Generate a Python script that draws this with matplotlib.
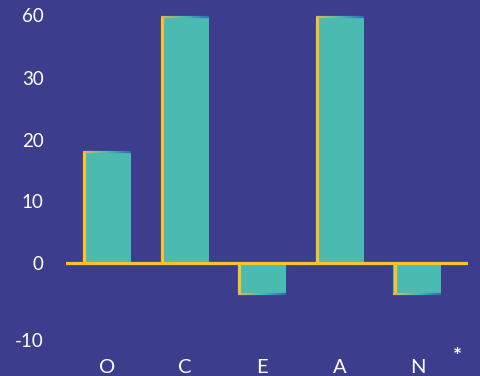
import numpy as np
import matplotlib.pyplot as plt
from matplotlib.collections import LineCollection
from matplotlib.colors import LinearSegmentedColormap

# OCEAN trait scores
traits = ["O", "C", "E", "A", "N"]
scores = [18, 59, -4, 59, -4]
tick_values = [-10, 0, 10, 20, 30, 60]
tick_labels = ["-10", "0", "10", "20", "30", "60"]

BG = "#3d3d8e"
TEAL = "#4bbab1"
GOLD = "#f7c22b"

# uneven axis: each labelled value gets its own spacing
knots_v = np.array([-30, -10, 0, 10, 20, 30, 60, 120], dtype=float)
knots_h = np.array([-118, 36, 113, 175, 236, 298, 361, 487], dtype=float)

def forward(v):
    return np.interp(v, knots_v, knots_h)

def inverse(h):
    return np.interp(h, knots_h, knots_v)

fig = plt.figure(figsize=(4.81, 3.76), dpi=100)
fig.patch.set_facecolor(BG)
ax = fig.add_axes([66 / 481, 31 / 376, 402 / 481, 345 / 376])
ax.set_facecolor(BG)
ax.set_yscale("function", functions=(forward, inverse))

x = np.arange(len(traits))
width = 0.62
ax.bar(x, scores, width=width, color=TEAL, zorder=2)

grad = LinearSegmentedColormap.from_list("edge", ["#d9b95c", "#4bbab1", "#2f6db0"])
for xi, s in zip(x, scores):
    left = xi - width / 2
    # yellow left edge
    ax.plot([left + 0.015, left + 0.015], [0, s], color=GOLD, lw=2.3,
            solid_capstyle="butt", zorder=3)
    # gradient cap on the outer end of the bar
    xs = np.linspace(left, left + width, 60)
    segs = [[(xs[i], s), (xs[i + 1], s)] for i in range(len(xs) - 1)]
    lc = LineCollection(segs, colors=grad(np.linspace(0, 1, len(segs))),
                        linewidths=1.6, zorder=3)
    ax.add_collection(lc)

ax.axhline(0, color=GOLD, lw=2.3, zorder=4)

ax.set_xlim((66 - 107) / 77.6, (468 - 107) / 77.6)
ax.set_ylim(inverse(376 - 345), inverse(376))

ax.set_xticks(x)
ax.set_xticklabels(traits, color="white", fontsize=14.5, family="Lato")
ax.set_yticks(tick_values)
ax.set_yticklabels(tick_labels, color="white", fontsize=13.5, family="Lato")
ax.yaxis.set_minor_locator(plt.NullLocator())
ax.tick_params(axis="x", length=0, pad=10)
ax.tick_params(axis="y", length=0, pad=16)
for sp in ax.spines.values():
    sp.set_visible(False)

fig.text(457 / 481, 1 - 357 / 376, "*", color="white", fontsize=15,
         fontweight="bold", ha="center", va="center", family="Lato")

fig.savefig("out.png", dpi=100, facecolor=BG)
